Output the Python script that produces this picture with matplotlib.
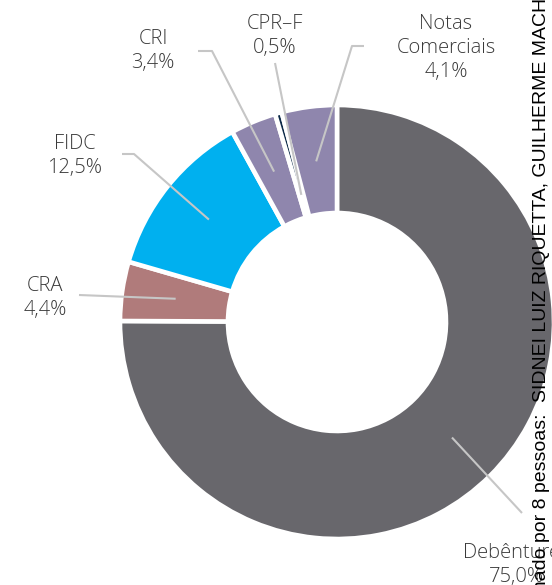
import numpy as np
import matplotlib.pyplot as plt

W, H = 552, 585

# carteira de crédito privado por tipo de ativo (%)
labels = ["Debêntures", "CRA", "FIDC", "CRI", "CPR–F", "Notas\nComerciais"]
shares = [75.0, 4.4, 12.5, 3.4, 0.5, 4.1]
colors = ["#68676c", "#b07b7b", "#00b0ef", "#8f86ad", "#0c2a48", "#8f86ad"]

# label placement (pixels, origin top-left) and leader line geometry
label_xy = [(516, 565), (45, 298), (75, 156), (153, 51), (275, 36), (446, 48)]
leader_start = [(522, 513), (79, 295), (122, 154), (198, 51), (275, 63), (364, 46)]
leader_elbow = [None, None, (134, 154), (212, 51), None, (352, 46)]
leader_r = [163, 163, 164, 163, 132, 162]

cx, cy = 337, 322
r_out, r_in = 217, 109

fig = plt.figure(figsize=(W / 100, H / 100), dpi=100)
ax = fig.add_axes([0, 0, 1, 1])

wedges, _ = ax.pie(shares, colors=colors, startangle=90, counterclock=False,
                   center=(cx, H - cy), radius=r_out,
                   wedgeprops=dict(width=r_out - r_in, edgecolor="white", linewidth=3.3))
ax.set_xlim(0, W)
ax.set_ylim(0, H)
ax.set_aspect("equal")
ax.axis("off")

txt_kw = dict(family="Open Sans", fontsize=14.5, color="#3a3a3a", weight="light",
              ha="center", va="center", linespacing=1.25)

for w, lab, val, (tx, ty), start, elbow, rr in zip(wedges, labels, shares, label_xy,
                                                  leader_start, leader_elbow, leader_r):
    mid = np.deg2rad((w.theta1 + w.theta2) / 2)
    ex, ey = cx + rr * np.cos(mid), (H - cy) + rr * np.sin(mid)
    pts = [start] + ([elbow] if elbow else [])
    xs = [p[0] for p in pts] + [ex]
    ys = [H - p[1] for p in pts] + [ey]
    ax.plot(xs, ys, color="#c6c6c6", lw=1.5, solid_capstyle="butt")
    ax.text(tx, H - ty, f"{lab}\n{val:.1f}%".replace(".", ","), **txt_kw)

# watermark along the right edge
wm_kw = dict(family="Liberation Sans", fontsize=14, color="black", rotation=90,
             rotation_mode="anchor", va="baseline")
ax.text(546, H - 413, "Documento compartilhado por 8 pessoas:", ha="right", **wm_kw)
ax.text(546, H - 402, "SIDNEI LUIZ RIQUETTA, GUILHERME MACHADO", ha="left", **wm_kw)

fig.savefig("out.png", dpi=100)
